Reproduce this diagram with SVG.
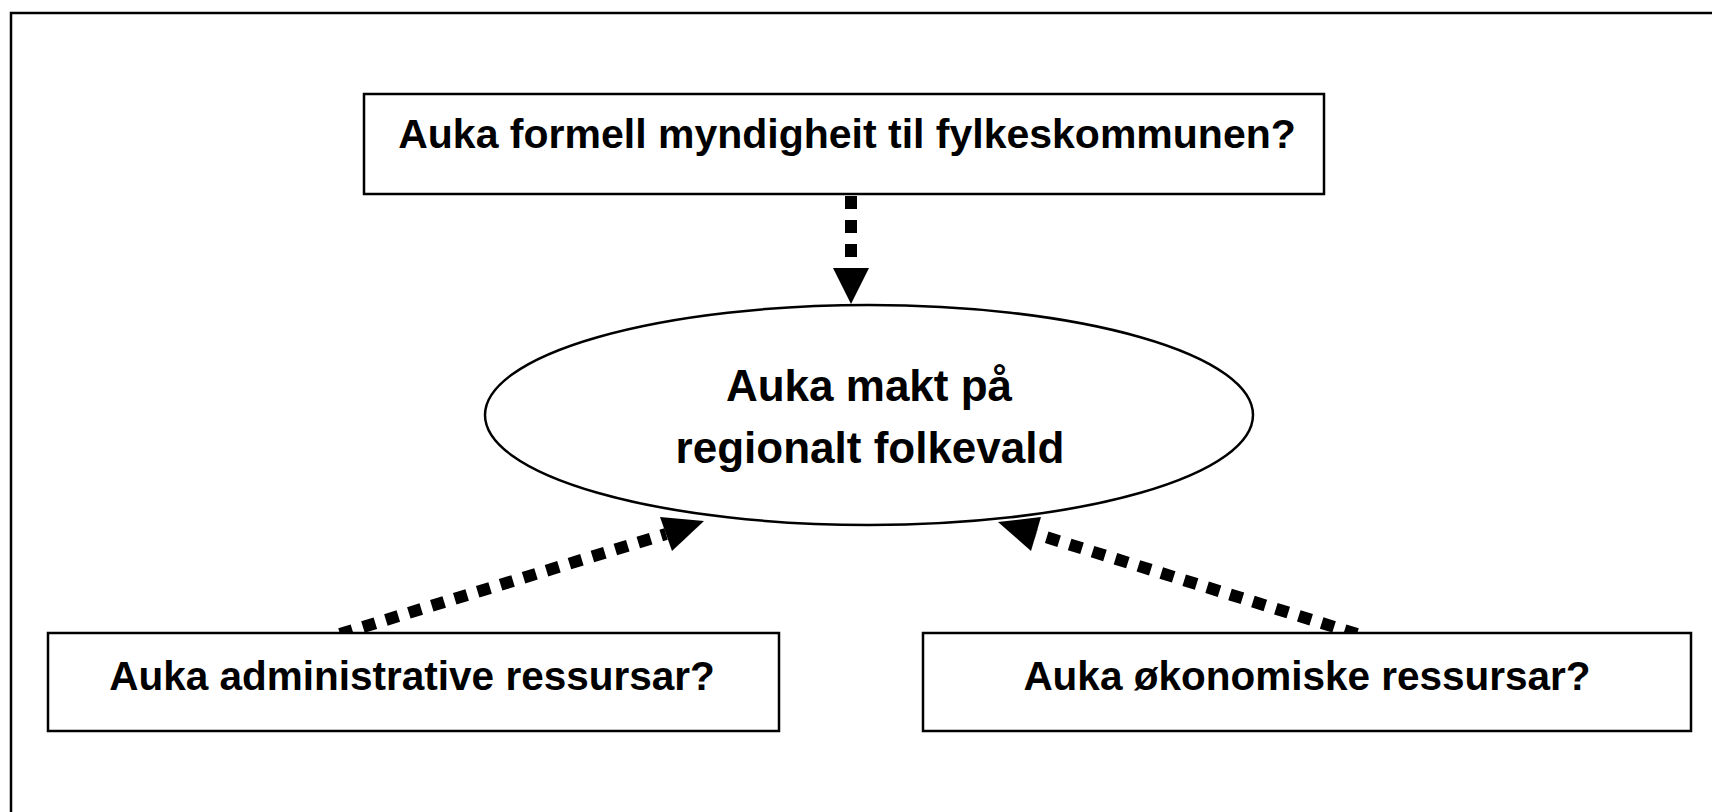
<svg xmlns="http://www.w3.org/2000/svg" width="1712" height="812" viewBox="0 0 1712 812">
<style>
.box{fill:#fff;stroke:#000;stroke-width:2.5}
.t{font-family:"Liberation Sans",Arial,sans-serif;font-weight:bold;fill:#000;text-anchor:middle}
.dash{stroke:#000;stroke-width:12;stroke-dasharray:13 11;fill:none}
.head{fill:#000}
</style>
<rect x="0" y="0" width="1712" height="812" fill="#fff"/>
<rect id="frame" x="11" y="13" width="1730" height="830" fill="none" stroke="#000" stroke-width="2.5"/>
<g id="connectors">
<line class="dash" x1="851" y1="196" x2="851" y2="268"/>
<polygon class="head" points="833,268 869,268 851,304"/>
<line class="dash" x1="340" y1="634" x2="666" y2="534"/>
<polygon class="head" points="704,521 660,517 672,551"/>
<line class="dash" x1="1357" y1="634" x2="1036" y2="534"/>
<polygon class="head" points="998,522 1041,517 1031,551"/>
</g>
<g id="node-top">
<rect class="box" x="364" y="94" width="960" height="100"/>
<text class="t" x="847" y="148" font-size="41">Auka formell myndigheit til fylkeskommunen?</text>
</g>
<g id="node-center">
<ellipse class="box" cx="869" cy="415" rx="384" ry="110" stroke-width="2"/>
<text class="t" x="869" y="401" font-size="44">Auka makt på</text>
<text class="t" x="870" y="463" font-size="44">regionalt folkevald</text>
</g>
<g id="node-left">
<rect class="box" x="48" y="633" width="731" height="98"/>
<text class="t" x="412" y="690" font-size="40.5">Auka administrative ressursar?</text>
</g>
<g id="node-right">
<rect class="box" x="923" y="633" width="768" height="98"/>
<text class="t" x="1307" y="690" font-size="40.5">Auka økonomiske ressursar?</text>
</g>
</svg>
